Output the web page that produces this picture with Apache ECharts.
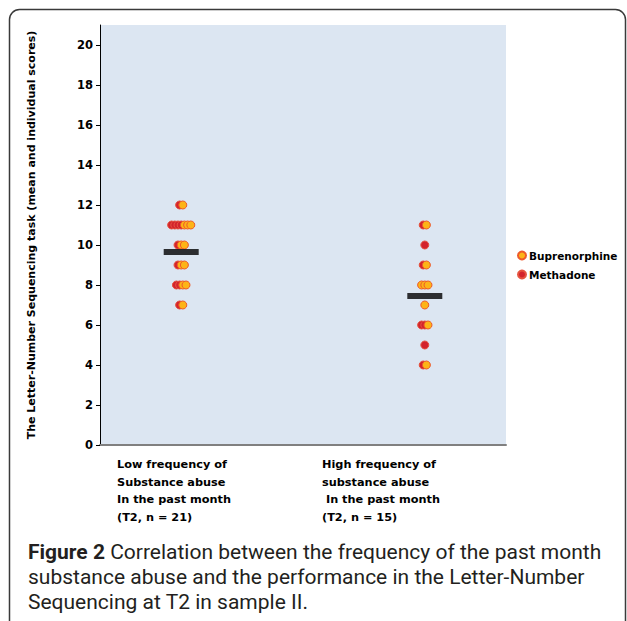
<!DOCTYPE html>
<html>
<head>
<meta charset="utf-8">
<script src="https://cdn.jsdelivr.net/npm/echarts@6/dist/echarts.min.js"></script>
<style>
html,body{margin:0;padding:0;background:#fff;}
#chart{width:627px;height:621px;}
</style>
</head>
<body>
<div id="chart"></div>
<script>
// ---- data ----
const groupLabels = [
  'Low frequency of\nSubstance abuse\nIn the past month\n(T2, n = 21)',
  'High frequency of\nsubstance abuse\n In the past month\n(T2, n = 15)'
];
const groupPositions = [1, 2];
const buprenorphineLow = [12, 11, 11, 11, 10, 10, 9, 9, 8, 8, 7];
const methadoneLow = [12, 11, 11, 11, 11, 10, 9, 8, 8, 7];
const buprenorphineHigh = [11, 9, 8, 8, 8, 7, 6, 4];
const methadoneHigh = [11, 10, 9, 6, 6, 5, 4];
const groupMeans = [9.65, 7.45];
const yTicks = [0, 2, 4, 6, 8, 10, 12, 14, 16, 18, 20];
const yAxisName = 'The Letter-Number Sequencing task (mean and individual scores)';
const captionBold = 'Figure 2';
const captionLines = [
  ' Correlation between the frequency of the past month',
  'substance abuse and the performance in the Letter-Number',
  'Sequencing at T2 in sample II.'
];

// ---- side-by-side dodge of equal values (methadone left, buprenorphine right) ----
const SPACING = 3.2;
function dodge(groupIdx, meth, bup) {
  const x = groupPositions[groupIdx];
  const vals = Array.from(new Set(meth.concat(bup)));
  const m = [], b = [];
  vals.forEach(v => {
    const nm = meth.filter(d => d === v).length;
    const nb = bup.filter(d => d === v).length;
    const k = nm + nb;
    for (let i = 0; i < k; i++) {
      const off = (i - (k - 1) / 2) * SPACING;
      const item = { value: [x, v], symbolOffset: [off, 0] };
      if (i < nm) m.push(item); else b.push(item);
    }
  });
  return { m, b };
}
const low = dodge(0, methadoneLow, buprenorphineLow);
const high = dodge(1, methadoneHigh, buprenorphineHigh);

const chart = echarts.init(document.getElementById('chart'), null, { renderer: 'svg' });

const labelFont = '"DejaVu Sans", "Liberation Sans", sans-serif';
const capFont = 'Roboto, "Open Sans", sans-serif';

const option = {
  animation: false,
  backgroundColor: '#ffffff',
  grid: {
    left: 100, top: 25, width: 406, height: 420,
    show: true, backgroundColor: '#DCE6F2', borderWidth: 0
  },
  xAxis: {
    type: 'value', min: 2 / 3, max: 7 / 3,
    splitLine: { show: false },
    axisTick: { show: false },
    axisLabel: { show: false },
    axisLine: { show: true, onZero: false, lineStyle: { color: '#808080', width: 2 } }
  },
  yAxis: {
    type: 'value', min: 0, max: 21,
    name: yAxisName, nameLocation: 'middle', nameGap: 63, nameRotate: 90,
    nameTextStyle: { fontFamily: labelFont, fontWeight: 'bold', fontSize: 11, color: '#000' },
    splitLine: { show: false },
    axisLine: { show: true, lineStyle: { color: '#000', width: 1 } },
    axisTick: { show: true, length: 4, customValues: yTicks, lineStyle: { color: '#000' } },
    axisLabel: {
      customValues: yTicks, margin: 7,
      fontFamily: labelFont, fontWeight: 'bold', fontSize: 11.5, color: '#000'
    }
  },
  legend: {
    orient: 'vertical', left: 517, top: 250, padding: 0,
    itemWidth: 8, itemHeight: 8, itemGap: 8,
    icon: 'circle',
    textStyle: { fontFamily: labelFont, fontWeight: 'bold', fontSize: 10.5, color: '#000', padding: [0, 0, 0, -2] },
    data: ['Buprenorphine', 'Methadone']
  },
  series: [
    {
      name: 'Methadone', type: 'scatter', symbol: 'circle', symbolSize: 8, z: 3,
      itemStyle: { color: '#D3232C', borderColor: '#E5533F', borderWidth: 1, opacity: 1 },
      data: low.m.concat(high.m)
    },
    {
      name: 'Buprenorphine', type: 'scatter', symbol: 'circle', symbolSize: 8, z: 4,
      itemStyle: { color: '#FDB417', borderColor: '#EE5A2A', borderWidth: 1, opacity: 1 },
      data: low.b.concat(high.b)
    },
    {
      name: 'Mean', type: 'scatter', symbol: 'rect', symbolSize: [35, 6], z: 5,
      itemStyle: { color: '#000' },
      data: groupMeans.map((m, i) => [groupPositions[i], m])
    }
  ],
  graphic: [
    {
      type: 'rect', silent: true, z: -10,
      shape: { x: 9.5, y: 9.5, width: 616, height: 640, r: 10 },
      style: { fill: 'none', stroke: '#3a3a3a', lineWidth: 1.5 }
    },
    {
      type: 'text', left: 117, top: 456,
      style: { text: groupLabels[0], fontFamily: labelFont, fontWeight: 'bold', fontSize: 11.3, lineHeight: 17.5, fill: '#000' }
    },
    {
      type: 'text', left: 322, top: 456,
      style: { text: groupLabels[1], fontFamily: labelFont, fontWeight: 'bold', fontSize: 11.3, lineHeight: 17.5, fill: '#000' }
    },
    {
      type: 'text', left: 28, top: 540,
      style: {
        text: '{b|' + captionBold + '}' + captionLines.join('\n'),
        rich: {
          b: { fontFamily: capFont, fontWeight: 'bold', fontSize: 21, lineHeight: 24.6, fill: '#231F20' }
        },
        fontFamily: capFont, fontSize: 21, lineHeight: 24.6, fill: '#231F20'
      }
    }
  ]
};
chart.setOption(option);
</script>
</body>
</html>
